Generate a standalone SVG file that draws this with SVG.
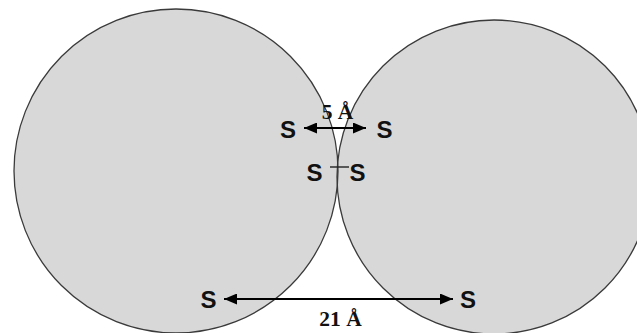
<svg xmlns="http://www.w3.org/2000/svg" width="637" height="333" viewBox="0 0 637 333">
<style>
.disc{fill:#d8d8d8;stroke:none}
.rim{fill:none;stroke:#3a3a3a;stroke-width:1.3}
.s{font-family:"Liberation Sans",Arial,sans-serif;font-weight:bold;font-size:24px;fill:#111}
.lbl{font-family:"Liberation Serif","Times New Roman",serif;font-weight:bold;font-size:21.5px;fill:#111}
.arr{stroke:#000;stroke-width:2;fill:none}
.bond{stroke:#222;stroke-width:1.4;fill:none}
</style>
<defs>
<marker id="ah" markerWidth="13" markerHeight="11" refX="13" refY="5.5" orient="auto-start-reverse" markerUnits="userSpaceOnUse">
<path d="M0,0 L13,5.5 L0,11 Z" fill="#000"/>
</marker>
</defs>
<rect width="637" height="333" fill="#fff"/>
<g id="spheres">
<circle class="disc" cx="176" cy="171" r="162"/>
<circle class="disc" cx="494" cy="177" r="157"/>
<circle class="rim" cx="176" cy="171" r="162"/>
<circle class="rim" cx="494" cy="177" r="157"/>
</g>
<g id="connectors">
<line class="arr" x1="304" y1="128" x2="366" y2="128" marker-start="url(#ah)" marker-end="url(#ah)"/>
<line class="bond" x1="330" y1="167" x2="349" y2="167"/>
<line class="arr" x1="224" y1="299" x2="453" y2="299" marker-start="url(#ah)" marker-end="url(#ah)"/>
</g>
<g id="s-top-left"><text class="s" x="288" y="137.5" text-anchor="middle">S</text></g>
<g id="s-top-right"><text class="s" x="384.5" y="137.5" text-anchor="middle">S</text></g>
<g id="label-5"><text class="lbl" x="337.5" y="118.5" text-anchor="middle">5 Å</text></g>
<g id="s-mid-left"><text class="s" x="314.5" y="180.5" text-anchor="middle">S</text></g>
<g id="s-mid-right"><text class="s" x="357.5" y="180.5" text-anchor="middle">S</text></g>
<g id="s-bot-left"><text class="s" x="208.5" y="307.5" text-anchor="middle">S</text></g>
<g id="s-bot-right"><text class="s" x="468" y="307.5" text-anchor="middle">S</text></g>
<g id="label-21"><text class="lbl" x="340.5" y="325.5" text-anchor="middle">21 Å</text></g>
</svg>
